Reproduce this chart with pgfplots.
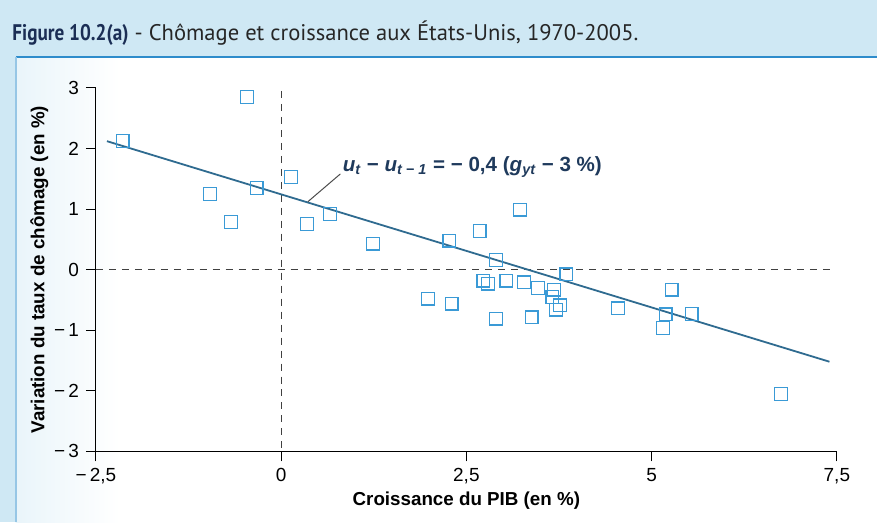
\documentclass[border=0pt]{standalone}
\usepackage{pgfplots}
\pgfplotsset{compat=1.18}
\usepackage{fontspec}
\usepackage{graphicx}
\setmainfont{Liberation Sans}
\newfontfamily\titlefont{PT Sans}
\definecolor{bgblue}{HTML}{CFE8F4}
\definecolor{frameblue}{HTML}{2E8CCB}
\definecolor{markblue}{HTML}{3A9AD6}
\definecolor{lineblue}{HTML}{2F6B90}
\definecolor{eqblue}{HTML}{1F3A5C}
\definecolor{titlenavy}{HTML}{1B2E55}

\pgfplotstableread{
x y
-2.14 2.12
-0.46 2.85
-0.96 1.25
-0.68 0.79
-0.33 1.35
0.13 1.53
0.35 0.75
0.66 0.92
1.24 0.43
2.27 0.48
3.22 0.99
2.68 0.64
2.90 0.16
3.85 -0.08
2.73 -0.18
2.79 -0.23
3.04 -0.18
3.28 -0.21
3.47 -0.30
3.68 -0.33
3.66 -0.45
3.76 -0.59
3.71 -0.66
1.98 -0.48
2.30 -0.56
2.90 -0.81
3.38 -0.79
4.55 -0.64
5.27 -0.33
5.19 -0.74
5.15 -0.96
5.54 -0.73
6.75 -2.05
}\pts

\begin{document}
\begin{tikzpicture}
\fill[bgblue] (0,0) rectangle (439pt,261.5pt);
\fill[white] (8pt,0) rectangle (439pt,233pt);
\shade[left color=bgblue!45, right color=white] (8pt,0) rectangle (60pt,233pt);
\draw[frameblue, line width=1.2pt] (8pt,233pt) -- (439pt,233pt);
\draw[frameblue!50, line width=0.6pt] (8pt,0) -- (8pt,233pt);
\node[anchor=base west, inner sep=0] at (6pt,241pt) {\titlefont\fontsize{11.3}{13}\selectfont\textcolor{titlenavy}{\scalebox{0.85}[1]{\bfseries Figure 10.2(a)}} \textcolor{black!85}{- Chômage et croissance aux États-Unis, 1970-2005.}};
\begin{axis}[
  at={(48pt,35.5pt)}, anchor=south west,
  scale only axis, width=371pt, height=182pt,
  xmin=-2.5, xmax=7.5, ymin=-3, ymax=3,
  axis x line=bottom, axis y line=left,
  axis line style={black, line width=0.6pt, -},
  xtick={-2.5,0,2.5,5,7.5}, xticklabels={{−\,2,5},0,{2,5},5,{7,5}},
  ytick={-3,-2,-1,0,1,2,3}, yticklabels={{−\,3},{−\,2},{−\,1},0,1,2,3},
  tick align=outside, major tick length=5pt,
  tick style={black, line width=0.5pt},
  tick label style={font=\fontsize{9.5}{11}\selectfont},
  xlabel={Croissance du PIB (en \%)},
  ylabel={Variation du taux de chômage (en \%)},
  label style={font=\bfseries\fontsize{9.4}{11}\selectfont},
  xlabel style={yshift=3pt},
  ylabel style={yshift=-4pt},
  clip=false,
]
\addplot[black!75, line width=0.5pt, dash pattern=on 3.5pt off 3pt] coordinates {(0,2.95) (0,-3)};
\addplot[black!75, line width=0.5pt, dash pattern=on 3.5pt off 3pt] coordinates {(-2.5,0) (7.45,0)};
\addplot[lineblue, line width=0.9pt] coordinates {(-2.35,2.12) (7.4,-1.52)};
\addplot[black!70, line width=0.5pt] coordinates {(0.36,1.12) (0.80,1.58)};
\addplot[only marks, mark=square, mark size=3.2pt, mark options={markblue, line width=0.6pt}] table[x=x,y=y] {\pts};
\node[anchor=west, text=eqblue, inner sep=1pt, font=\bfseries\fontsize{10.3}{12}\selectfont] at (axis cs:0.80,1.70) {\itshape u\textsubscript{t}\upshape\ − \itshape u\textsubscript{t − 1}\upshape\ = − 0,4 (\itshape g\textsubscript{yt}\upshape\ − 3 \%)};
\end{axis}
\end{tikzpicture}
\end{document}
